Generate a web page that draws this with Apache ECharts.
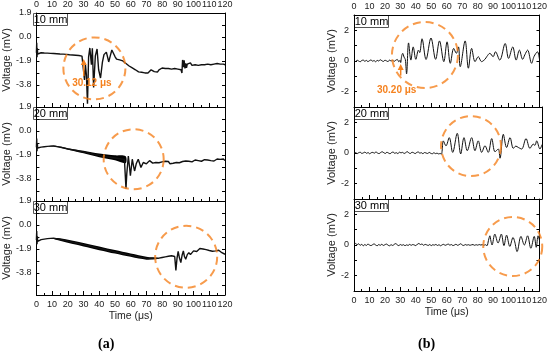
<!DOCTYPE html>
<html><head><meta charset="utf-8">
<script src="https://cdn.jsdelivr.net/npm/echarts@6/dist/echarts.min.js"></script>
<style>html,body{margin:0;padding:0;background:#fff}#c{width:550px;height:360px}</style>
</head><body><div id="c"></div>
<script>
// ---------- data ----------
const xTicks = [0,10,20,30,40,50,60,70,80,90,100,110,120];
const panelLabels = ['10 mm','20 mm','30 mm'];
const leftTickLabels = [1.9, 0, -1.9, -3.8];
const leftTickValues = [1.9, 0.95, 0, -0.95, -1.9, -2.85, -3.8, -4.75];
const rightTickLabels = [2, 0, -2];

// (a) 10 mm
const a10 = [[0,-1.25],[0.2,-0.45],[0.4,-1.6],[0.6,-0.9],[0.8,-1.35],[1,-1.2],[2,-1.28],[3,-1.25],[4,-1.3],[5,-1.27],[6,-1.3],[7,-1.28],[8,-1.32],[9,-1.3],[10,-1.33],[11,-1.31],[12,-1.35],[13,-1.33],[14,-1.36],[15,-1.35],[16,-1.38],[17,-1.36],[18,-1.4],[19,-1.38],[20,-1.42],[21,-1.41],[22,-1.44],[23,-1.43],[24,-1.46],[25,-1.45],[26,-1.48],[27,-1.47],[28,-1.5],[29,-1.52],[30,-1.55],[30.12,-1.56],[30.6,-3.4],[31.2,-2.2],[31.8,-3.0],[32.5,-5.3],[33.2,-1.6],[34,-0.87],[35,-2.2],[35.6,-0.9],[36.4,-4.0],[37.5,-1.5],[38.6,-0.95],[39.6,-2.6],[40.8,-3.25],[42,-2.0],[43,-1.4],[44.5,-1.2],[45.3,-1.6],[46,-1.98],[47,-1.5],[48,-1.03],[49,-1.05],[50,-1.55],[51,-1.75],[52,-1.6],[53,-1.82],[54,-1.7],[55,-1.9],[56,-1.98],[57,-2.1],[58,-2.0],[59,-2.3],[60,-2.2],[61,-2.45],[62,-2.4],[63,-2.6],[64,-2.55],[65,-2.77],[66,-2.7],[67,-2.8],[68,-2.9],[69,-2.85],[70,-3.0],[71,-2.85],[72,-2.7],[73,-2.6],[74,-2.7],[75,-2.75],[76,-2.65],[77,-2.78],[78,-2.6],[79,-2.55],[80,-2.46],[81,-2.55],[82,-2.5],[83,-2.62],[84,-2.5],[85,-2.45],[86,-2.55],[87,-2.42],[88,-2.5],[89,-2.4],[90,-2.55],[91,-2.45],[92,-2.6],[92.6,-2.85],[93,-1.82],[93.5,-2.4],[94,-1.85],[94.5,-2.5],[95,-2.1],[95.5,-2.45],[96,-2.15],[97,-2.2],[98,-2.05],[99,-2.25],[100,-2.1],[101,-2.2],[102,-2.05],[103,-2.25],[104,-2.15],[105,-2.2],[106,-2.1],[107,-2.2],[108,-2.05],[109,-2.15],[110,-2.1],[111,-2.2],[112,-2.1],[113,-2.15],[114,-2.0],[115,-2.1],[116,-2.2],[117,-2.15],[118,-2.2],[119,-2.15],[120,-2.2]];

// (a) 20 mm
const a20 = [[0,-1.3],[0.2,-0.6],[0.4,-1.6],[0.6,-1.0],[0.8,-1.35],[1,-1.3],[2,-1.3],[3,-1.28],[4,-1.27],[5,-1.25],[6,-1.24],[7,-1.22],[8,-1.21],[9,-1.2],[10,-1.19],[11,-1.19],[12,-1.21],[14,-1.26],[16,-1.31],[18,-1.36],[20,-1.42],[22,-1.47],[24,-1.52],[26,-1.57],[28,-1.62],[30,-1.67],[32,-1.72],[34,-1.77],[36,-1.83],[38,-1.88],[40,-1.93],[42,-1.98],[44,-2.02],[46,-2.06],[48,-2.1],[50,-2.14],[52,-2.18],[54,-2.22],[56,-2.25],[56.8,-2.3],[57,-4.57],[57.5,-3.4],[58.5,-1.98],[59.2,-2.8],[59.8,-3.55],[61,-2.24],[62,-2.9],[62.5,-3.17],[63.5,-2.6],[64.8,-2.24],[66.5,-2.9],[68,-2.5],[69,-2.38],[70,-2.6],[71,-2.45],[72,-2.35],[73,-2.38],[74,-2.55],[75,-2.4],[76,-2.5],[77,-2.35],[78,-2.52],[79,-2.6],[80,-2.45],[81,-2.55],[82,-2.4],[83,-2.5],[84,-2.42],[85,-2.6],[86,-2.48],[87,-2.56],[88,-2.45],[89,-2.5],[90,-2.4],[91,-2.52],[92,-2.45],[93,-2.42],[94,-2.5],[95,-2.38],[96,-2.46],[97,-2.4],[98,-2.32],[99,-2.45],[100,-2.38],[101,-2.3],[102,-2.42],[103,-2.35],[104,-2.3],[105,-2.4],[106,-2.32],[107,-2.28],[108,-2.4],[109,-2.3],[110,-2.25],[111,-2.35],[112,-2.3],[113,-2.38],[114,-2.28],[115,-2.22],[116,-2.32],[117,-2.25],[118,-2.3],[119,-2.22],[120,-2.35]];
const a20BandT  = [8, 12, 20, 30, 40, 50, 56.8];
const a20BandHi = [-1.19, -1.17, -1.36, -1.57, -1.79, -1.93, -2.0];
const a20BandLo = [-1.23, -1.25, -1.48, -1.77, -2.08, -2.33, -2.55];

// (a) 30 mm
const a30 = [[0,-1.19],[0.2,-0.47],[0.4,-1.53],[0.6,-0.9],[0.8,-1.3],[1,-1.2],[2,-1.18],[3,-1.16],[4,-1.14],[5,-1.12],[6,-1.1],[7,-1.08],[8,-1.07],[9,-1.06],[10,-1.05],[11,-1.05],[12,-1.07],[14,-1.12],[16,-1.17],[18,-1.22],[20,-1.28],[22,-1.34],[24,-1.39],[26,-1.45],[28,-1.5],[30,-1.56],[32,-1.62],[34,-1.67],[36,-1.73],[38,-1.79],[40,-1.85],[42,-1.9],[44,-1.96],[46,-2.02],[48,-2.08],[50,-2.13],[52,-2.19],[54,-2.24],[56,-2.3],[58,-2.35],[60,-2.4],[62,-2.45],[64,-2.5],[66,-2.55],[68,-2.59],[70,-2.63],[72,-2.65],[74,-2.66],[76,-2.66],[78,-2.63],[80,-2.58],[82,-2.53],[84,-2.48],[86,-2.44],[87,-2.42],[88,-2.5],[88.75,-3.6],[89.5,-2.6],[90.2,-2.1],[91,-2.6],[91.9,-2.98],[92.7,-2.4],[93.5,-2.06],[94.2,-2.5],[95,-2.71],[96,-2.35],[97,-2.19],[98,-2.35],[99,-2.25],[100,-2.05],[101,-1.92],[102,-2.1],[103,-1.95],[104,-1.87],[105,-2.0],[106,-1.9],[107,-2.05],[108,-1.95],[109,-1.9],[110,-2.02],[111,-1.95],[112,-2.08],[113,-1.98],[114,-2.05],[115,-2.1],[116,-2.0],[117,-2.15],[118,-2.2],[119,-2.3],[120,-2.32]];
const a30BandT  = [10, 15, 30, 50, 70, 78];
const a30BandHi = [-1.03, -1.05, -1.42, -1.99, -2.51, -2.60];
const a30BandLo = [-1.07, -1.25, -1.70, -2.27, -2.75, -2.66];

// (b) 10 mm
const b10 = [[0,0.02],[1,-0.03],[2,0.05],[3,0.0],[4,-0.05],[5,0.03],[6,0.06],[7,-0.02],[8,0.04],[9,-0.04],[10,0.02],[11,0.07],[12,-0.01],[13,0.03],[14,-0.05],[15,0.04],[16,0.0],[17,0.08],[18,0.02],[19,-0.03],[20,0.05],[21,0.01],[22,-0.04],[23,0.06],[24,0.0],[25,0.04],[26,-0.02],[27,0.05],[28,0.1],[29,-0.05],[29.8,0.05],[30.2,-0.1],[30.8,0.3],[31.5,0.5],[32.4,0.25],[33.2,0.1],[34,-0.84],[35.3,1.18],[36.8,0.06],[38.3,0.92],[40,0.11],[41.7,0.71],[42.5,0.55],[44,1.45],[46.6,0.1],[49.8,1.5],[52.8,0.11],[55.3,1.31],[58.1,-0.04],[60.2,1.25],[62.3,-0.15],[64.5,0.82],[66.2,0.5],[67.6,0.92],[68.7,-0.37],[71.9,1.31],[74,-0.47],[76.1,0.82],[78.3,-0.04],[80.4,0.28],[82.5,-0.04],[84.7,0.11],[86,0.3],[87.9,0.5],[90,0.28],[91.5,0.6],[94.3,0.06],[97.8,1.14],[100,0.17],[102.7,0.92],[104.9,0.06],[107,0.71],[109.1,0.11],[110.5,0.4],[112.3,0.71],[114.9,-0.15],[116.5,0.3],[118.7,0.6],[120,0.1]];

// (b) 20 mm
const b20 = [[0,-0.02],[1,0.03],[2,-0.04],[3,0.02],[4,0.05],[5,-0.03],[6,0.01],[7,0.06],[8,-0.02],[9,0.03],[10,-0.05],[11,0.02],[12,0.04],[13,-0.01],[14,0.07],[15,0.0],[16,-0.04],[17,0.03],[18,0.08],[19,0.02],[20,-0.03],[21,0.05],[22,0.0],[23,-0.05],[24,0.03],[25,0.06],[26,-0.02],[27,0.02],[28,-0.04],[29,0.05],[30,0.01],[31,0.04],[32,-0.03],[33,0.02],[34,0.09],[35,0.0],[36,-0.03],[37,0.05],[38,0.02],[39,-0.04],[40,0.03],[41,0.07],[42,-0.01],[43,0.02],[44,-0.05],[45,0.03],[46,0.0],[47,-0.03],[48,0.04],[49,-0.02],[50,-0.05],[51,0.02],[52,-0.04],[53,-0.01],[54,-0.06],[55,-0.03],[55.8,-0.08],[56.3,0.2],[57,0.79],[58.7,0.47],[60.8,1.0],[63,0.04],[65.9,1.28],[68.1,-0.06],[70.2,1.0],[72.3,0.15],[75.1,1.0],[77.2,0.15],[79.3,0.79],[81.5,0.04],[83.6,0.47],[85.7,0.04],[87.9,0.94],[90,0.08],[92.1,0.26],[93.2,-0.34],[95.3,1.22],[97.4,0.36],[99.6,1.0],[101.7,0.3],[103.3,0.45],[104.9,0.36],[107,0.26],[109.8,0.94],[112.3,0.3],[114.4,0.58],[115.5,0.5],[116.6,0.79],[118.7,0.26],[120,0.55]];

// (b) 30 mm
const b30 = [[0,0.05],[1,0.1],[2,0.02],[3,0.08],[4,-0.02],[5,0.04],[6,-0.05],[7,0.03],[8,-0.03],[9,0.06],[10,0.0],[11,-0.04],[12,0.02],[13,0.07],[14,0.0],[15,-0.05],[16,0.03],[17,-0.02],[18,0.05],[19,-0.03],[20,0.02],[21,0.06],[22,-0.01],[23,-0.05],[24,0.02],[25,-0.03],[26,0.04],[27,0.09],[28,0.01],[29,-0.04],[30,0.03],[31,-0.02],[32,0.02],[33,-0.05],[34,0.01],[35,-0.03],[36,0.04],[37,-0.02],[38,0.03],[39,0.0],[40,-0.04],[41,0.05],[42,0.1],[43,0.03],[44,0.07],[45,-0.02],[46,0.04],[47,0.01],[48,-0.03],[49,0.03],[50,-0.04],[51,0.02],[52,-0.01],[53,0.04],[54,-0.03],[55,0.02],[56,-0.05],[57,0.01],[58,0.04],[59,-0.02],[60,0.02],[61,0.06],[62,-0.01],[63,0.03],[64,-0.04],[65,0.0],[66,0.05],[67,-0.02],[68,0.02],[69,0.08],[70,0.0],[71,-0.03],[72,0.03],[73,-0.01],[74,0.02],[75,-0.02],[76,0.01],[77,0.03],[78,-0.02],[79,0.02],[80,-0.01],[81,0.03],[82,0.0],[83,0.02],[84,-0.02],[85,0.02],[86,-0.05],[87,0.3],[87.9,0.6],[88.6,0.25],[89.3,0.0],[91.1,0.71],[93.2,0.13],[95.3,0.71],[97,-0.04],[98.7,0.64],[100.8,-0.09],[102.9,0.49],[104,0.2],[105.5,-0.43],[108,0.56],[110.2,0.0],[112.3,0.6],[114.4,-0.21],[116.6,0.56],[117.9,-0.15],[119.1,0.6],[120,0.3]];

// highlight circles: [time, voltage] centre, diameter in px
const circles = [
  {panel:0, c:[36.9,-2.49], d:62},
  {panel:1, c:[61.9,-2.24], d:60},
  {panel:2, c:[95.3,-2.52], d:62},
  {panel:3, c:[45.9,0.39], d:66},
  {panel:4, c:[74.7,0.45], d:60},
  {panel:5, c:[102.7,-0.1], d:59}
];
// onset annotations
const onsets = [
  {panel:0, t:30.12, text:'30.12 μs', from:-3.1, to:-1.75, label:[35.3,-3.64]},
  {panel:3, t:30.20, text:'30.20 μs', from:-0.95, to:-0.2, label:[27.6,-1.88]}
];

// ---------- layout ----------
const ORANGE = '#F5821F';
const FONT = 'Liberation Sans, Arial, sans-serif';
const L = {left:33, width:192, tops:[13,107,201], height:94};
const R = {left:354, width:188, tops:[15,107,199], height:92};

const grids = [], xAxes = [], yAxes = [], series = [];
for (let g = 0; g < 6; g++) {
  const col = g < 3 ? L : R;
  const row = g % 3;
  grids.push({left: col.left, top: col.tops[row], width: col.width, height: col.height, show:false, containLabel:false});
}
const axLine = {show:true, onZero:false, lineStyle:{color:'#000', width:1}};
const lbl = {color:'#222', fontSize:9, fontFamily:FONT};
for (let g = 0; g < 6; g++) {
  const row = g % 3;
  xAxes.push({
    gridIndex:g, type:'value', min:0, max:120, interval:10, position:'bottom',
    axisLine:axLine,
    axisTick:{show:true, inside:true, length:4, lineStyle:{color:'#000'}},
    minorTick:{show:true, splitNumber:2, length:2, lineStyle:{color:'#000'}},
    axisLabel:Object.assign({show: row===2, margin:5}, lbl),
    splitLine:{show:false}, minorSplitLine:{show:false},
    name: row===2 ? 'Time (μs)' : '', nameLocation:'middle', nameGap:16,
    nameTextStyle:{color:'#222', fontSize:10.5, fontFamily:FONT}
  });
}
// top axes for top panels (indices 6,7)
[0,3].forEach(g => xAxes.push({
  gridIndex:g, type:'value', min:0, max:120, interval:10, position:'top',
  axisLine:axLine, axisTick:{show:false},
  axisLabel:Object.assign({show:true, margin:4}, lbl), splitLine:{show:false}
}));
for (let g = 0; g < 6; g++) {
  const left = g < 3;
  yAxes.push(left ? {
    gridIndex:g, type:'value', min:-5.55, max:1.9, position:'left',
    axisLine:axLine,
    axisTick:{show:true, inside:true, length:3, customValues:leftTickValues, lineStyle:{color:'#000'}},
    axisLabel:Object.assign({show:true, margin:5, customValues:leftTickLabels, formatter:v=>Number(v).toFixed(1)}, lbl),
    splitLine:{show:false},
    name:'Voltage (mV)', nameLocation:'middle', nameGap:20,
    nameTextStyle:{color:'#222', fontSize:11, fontFamily:FONT}
  } : {
    gridIndex:g, type:'value', min:-3, max:3, interval:1, position:'left',
    axisLine:axLine,
    axisTick:{show:true, inside:true, length:3, lineStyle:{color:'#000'}},
    axisLabel:Object.assign({show:true, margin:5, customValues:rightTickLabels}, lbl),
    splitLine:{show:false},
    name:'Voltage (mV)', nameLocation:'middle', nameGap:14,
    nameTextStyle:{color:'#222', fontSize:11, fontFamily:FONT}
  });
}
for (let g = 0; g < 6; g++) {
  const left = g < 3;
  yAxes.push(left ? {
    gridIndex:g, type:'value', min:-5.55, max:1.9, position:'right',
    axisLine:axLine,
    axisTick:{show:true, inside:true, length:3, customValues:leftTickValues, lineStyle:{color:'#000'}},
    axisLabel:{show:false}, splitLine:{show:false}
  } : {
    gridIndex:g, type:'value', min:-3, max:3, interval:1, position:'right',
    axisLine:axLine,
    axisTick:{show:true, inside:true, length:3, lineStyle:{color:'#000'}},
    axisLabel:{show:false}, splitLine:{show:false}
  });
}

function band(g, T, hi, lo) {
  return {type:'custom', xAxisIndex:g, yAxisIndex:g, data:[[0,0]], silent:true, z:2,
    renderItem:(params, api) => {
      const up = T.map((t,i) => api.coord([t, hi[i]]));
      const dn = T.map((t,i) => api.coord([t, lo[i]])).reverse();
      return {type:'polygon', shape:{points: up.concat(dn), smooth:0.3}, style:{fill:'#000'}};
    }};
}
const traces = [a10, a20, a30, b10, b20, b30];
traces.forEach((d, g) => series.push({
  type:'line', xAxisIndex:g, yAxisIndex:g, data:d, showSymbol:false, symbol:'none',
  smooth: g < 3 ? false : 0.35, lineStyle:{color:'#111', width: g < 3 ? 1.4 : 1.0}, z:3, animation:false
}));
series.push(band(1, a20BandT, a20BandHi, a20BandLo));
series.push(band(2, a30BandT, a30BandHi, a30BandLo));
circles.forEach(c => series.push({
  type:'scatter', xAxisIndex:c.panel, yAxisIndex:c.panel, data:[c.c], symbol:'circle', symbolSize:c.d,
  clip:false, silent:true, z:5,
  itemStyle:{color:'rgba(0,0,0,0)', borderColor:ORANGE, borderWidth:2, borderType:[8,5]}
}));

const chart = echarts.init(document.getElementById('c'), null, {renderer:'canvas'});
chart.setOption({
  animation:false, backgroundColor:'#fff',
  grid:grids, xAxis:xAxes, yAxis:yAxes, series:series
});

// ---------- annotations (positioned through the axes) ----------
const gr = [];
for (let g = 0; g < 6; g++) {
  const col = g < 3 ? L : R;
  const row = g % 3;
  gr.push({type:'group', left: col.left, top: col.tops[row], z:10, children:[
    {type:'rect', shape:{x:0, y:0, width:34, height:12}, style:{fill:'#fff', stroke:'#555', lineWidth:1}},
    {type:'text', x:17, y:6.5, style:{text:panelLabels[row], fill:'#000', font:'11px ' + FONT, textAlign:'center', textVerticalAlign:'middle'}}
  ]});
}
onsets.forEach(o => {
  const p0 = chart.convertToPixel({xAxisIndex:o.panel, yAxisIndex:o.panel}, [o.t, o.from]);
  const p1 = chart.convertToPixel({xAxisIndex:o.panel, yAxisIndex:o.panel}, [o.t, o.to]);
  const pl = chart.convertToPixel({xAxisIndex:o.panel, yAxisIndex:o.panel}, o.label);
  gr.push({type:'line', z:11, shape:{x1:p0[0], y1:p0[1], x2:p1[0], y2:p1[1]+3}, style:{stroke:ORANGE, lineWidth:1.5}});
  gr.push({type:'polygon', z:11, shape:{points:[[p1[0],p1[1]],[p1[0]-3,p1[1]+6],[p1[0]+3,p1[1]+6]]}, style:{fill:ORANGE}});
  gr.push({type:'text', z:11, x:pl[0], y:pl[1], style:{text:o.text, fill:ORANGE, font:'bold 10px ' + FONT, textAlign:'center', textVerticalAlign:'middle'}});
});
gr.push({type:'text', z:11, left:98, top:337, style:{text:'(a)', fill:'#000', font:'bold 14px Liberation Serif, serif'}});
gr.push({type:'text', z:11, left:418, top:337, style:{text:'(b)', fill:'#000', font:'bold 14px Liberation Serif, serif'}});
chart.setOption({graphic:gr});
</script>
</body></html>
